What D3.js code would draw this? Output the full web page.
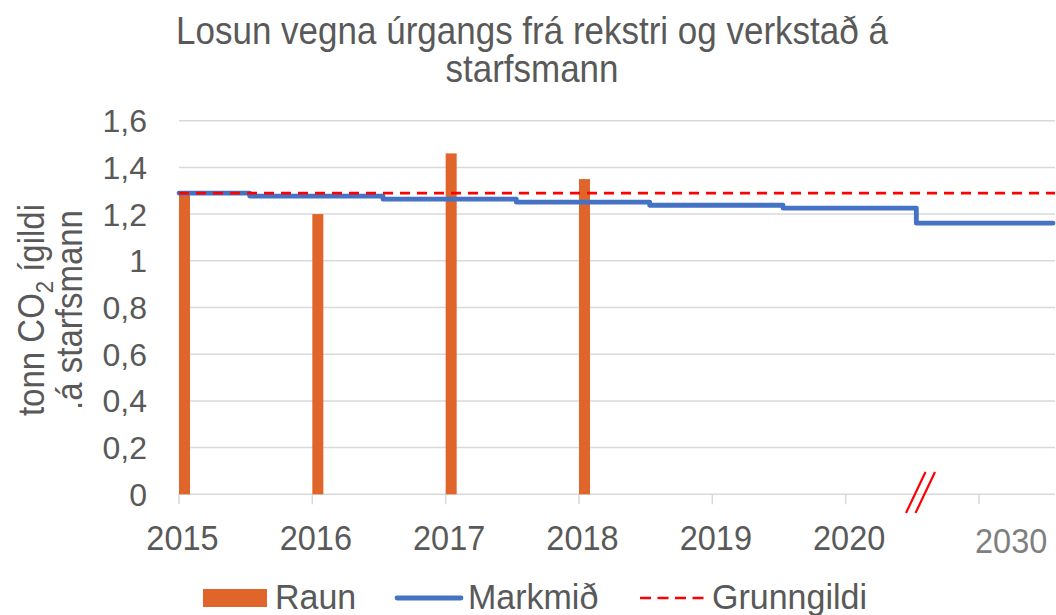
<!DOCTYPE html>
<html>
<head>
<meta charset="utf-8">
<script src="https://cdn.jsdelivr.net/npm/d3@7"></script>
<style>
  body { margin: 0; background: #fff; }
  text { font-family: "Liberation Sans", Arial, sans-serif; fill: #595959; }
</style>
</head>
<body>
<svg id="chart" width="1056" height="615"></svg>
<script>
// data
var years = ["2015", "2016", "2017", "2018", "2019", "2020", "2030"];
var raun = [1.29, 1.2, 1.46, 1.35, null, null, null];
var markmid = [1.29, 1.277, 1.264, 1.251, 1.238, 1.226, 1.161];
var grunngildi = 1.29;
var yTicks = [0, 0.2, 0.4, 0.6, 0.8, 1, 1.2, 1.4, 1.6];

var svg = d3.select("#chart");

var x = d3.scaleLinear().domain([0, 6.57]).range([179, 1055]);
var y = d3.scaleLinear().domain([0, 1.6]).range([494.3, 120.7]);
var fmt = function(d) { return String(d).replace(".", ","); };

// text placed at (tx, ty) with a small vertical stretch, the source font is taller
function stretchText(parent, tx, ty, k, rot) {
  return parent.append("g")
    .attr("transform", "translate(" + tx + "," + ty + ")" + (rot ? " rotate(" + rot + ")" : "") + " scale(1," + k + ")")
    .append("text");
}

// title
stretchText(svg, 532, 44, 1.1)
  .attr("text-anchor", "middle")
  .style("font-size", "35px")
  .text("Losun vegna úrgangs frá rekstri og verkstað á");
stretchText(svg, 532, 82, 1.1)
  .attr("text-anchor", "middle")
  .style("font-size", "35px")
  .text("starfsmann");

// horizontal grid lines
svg.append("g").selectAll("line")
  .data(yTicks)
  .enter()
  .append("line")
  .style("stroke", "#D9D9D9")
  .style("stroke-width", 1.5)
  .attr("x1", x(0))
  .attr("x2", x.range()[1])
  .attr("y1", function(d) { return y(d); })
  .attr("y2", function(d) { return y(d); });

// y tick labels
svg.append("g").selectAll("text")
  .data(yTicks)
  .enter()
  .append("text")
  .attr("x", 147)
  .attr("y", function(d) { return y(d); })
  .attr("dy", "0.36em")
  .attr("text-anchor", "end")
  .style("font-size", "32px")
  .text(fmt);

// x tick marks and labels
var xAxis = svg.append("g");
xAxis.selectAll("line")
  .data(years)
  .enter()
  .append("line")
  .style("stroke", "#D9D9D9")
  .style("stroke-width", 1.5)
  .attr("x1", function(d, i) { return x(i); })
  .attr("x2", function(d, i) { return x(i); })
  .attr("y1", y(0))
  .attr("y2", y(0) + 10);

years.forEach(function(d, i) {
  var last = i == years.length - 1;
  stretchText(xAxis, last ? x(i) - 4 : x(i) + 3.5, last ? 553 : 550, 1.1)
    .attr("text-anchor", last ? "start" : "middle")
    .style("font-size", "32.5px")
    .style("fill", last ? "#7F7F7F" : "#595959")
    .text(d);
});

// axis break mark
svg.append("g").selectAll("line")
  .data([0, 9.5])
  .enter()
  .append("line")
  .style("stroke", "#FF0000")
  .style("stroke-width", 2.2)
  .attr("x1", function(d) { return 906 + d; })
  .attr("y1", 513)
  .attr("x2", function(d) { return 925.5 + d; })
  .attr("y2", 472);

// bars (Raun)
var barW = 11;
svg.append("g").selectAll("rect")
  .data(raun)
  .enter()
  .filter(function(d) { return d != null; })
  .append("rect")
  .attr("fill", "#E0652B")
  .attr("x", function(d, i) { return x(i); })
  .attr("y", function(d) { return y(d); })
  .attr("width", barW)
  .attr("height", function(d) { return y(0) - y(d); });

// stepped target line (Markmið)
var stepOffset = 0.53;
var pts = [];
markmid.forEach(function(v, i) {
  var x0 = i == 0 ? 0 : i - 1 + stepOffset;
  var x1 = i == markmid.length - 1 ? 6.555 : i + stepOffset;
  pts.push([x0, v]);
  pts.push([x1, v]);
});
svg.append("path")
  .datum(pts)
  .attr("fill", "none")
  .attr("stroke", "#4472C4")
  .attr("stroke-width", 4.8)
  .attr("stroke-linecap", "round")
  .attr("stroke-linejoin", "round")
  .attr("d", d3.line()
    .x(function(d) { return x(d[0]); })
    .y(function(d) { return y(d[1]); }));

// baseline (Grunngildi)
svg.append("line")
  .style("stroke", "#FF0000")
  .style("stroke-width", 2.6)
  .style("stroke-dasharray", "10,7")
  .attr("x1", x(0))
  .attr("x2", x.range()[1])
  .attr("y1", y(grunngildi))
  .attr("y2", y(grunngildi));

// y axis title
var yTitle = stretchText(svg, 44, 310, 1.1, -90)
  .attr("text-anchor", "middle")
  .style("font-size", "33px");
yTitle.append("tspan").text("tonn CO");
yTitle.append("tspan").attr("dy", 8).style("font-size", "22px").text("2");
yTitle.append("tspan").attr("dy", -8).text(" ígildi");
stretchText(svg, 82, 310, 1.1, -90)
  .attr("text-anchor", "middle")
  .style("font-size", "33px")
  .text(".á starfsmann");

// legend
var legend = svg.append("g");
legend.append("rect")
  .attr("x", 203).attr("y", 589)
  .attr("width", 64).attr("height", 18)
  .attr("fill", "#E0652B");
stretchText(legend, 275, 609, 1.05)
  .style("font-size", "34px")
  .text("Raun");
legend.append("line")
  .attr("x1", 397).attr("x2", 461)
  .attr("y1", 598).attr("y2", 598)
  .style("stroke", "#4472C4")
  .style("stroke-width", 4.8)
  .style("stroke-linecap", "round");
stretchText(legend, 468, 609, 1.05)
  .style("font-size", "34px")
  .text("Markmið");
legend.append("line")
  .attr("x1", 640).attr("x2", 704)
  .attr("y1", 598).attr("y2", 598)
  .style("stroke", "#FF0000")
  .style("stroke-width", 2.6)
  .style("stroke-dasharray", "11,6.5");
stretchText(legend, 712, 609, 1.05)
  .style("font-size", "34px")
  .text("Grunngildi");
</script>
</body>
</html>
